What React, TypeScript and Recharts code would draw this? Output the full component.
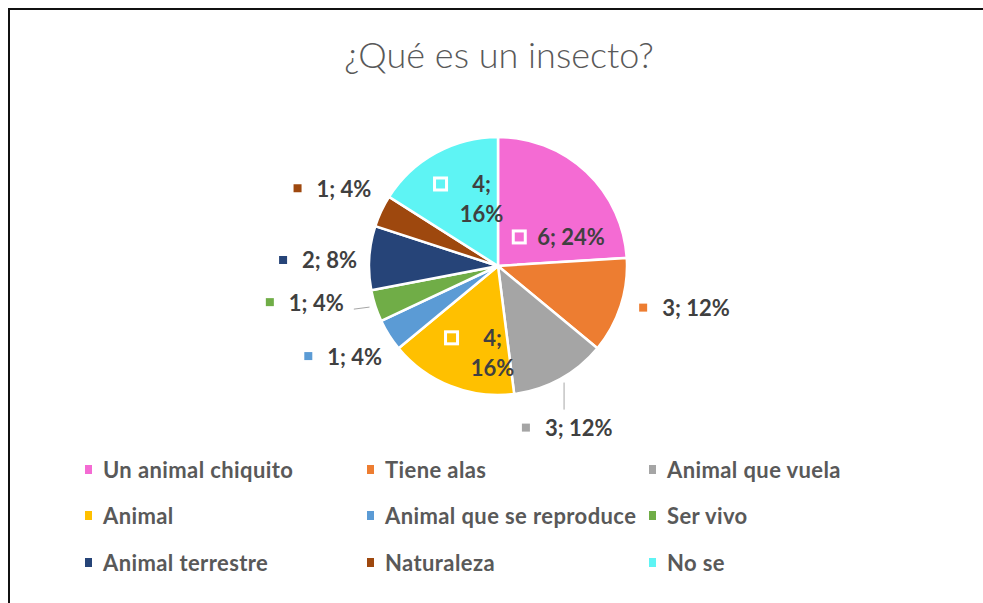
import { PieChart, Pie, Cell, Legend } from 'recharts';

const categories = [
  'Un animal chiquito',
  'Tiene alas',
  'Animal que vuela',
  'Animal',
  'Animal que se reproduce',
  'Ser vivo',
  'Animal terrestre',
  'Naturaleza',
  'No se',
];
const counts = [6, 3, 3, 4, 1, 1, 2, 1, 4];
const colors = [
  '#F46BD3', '#ED7D31', '#A5A5A5', '#FFC000', '#5B9BD5',
  '#70AD47', '#264478', '#9E480E', '#5EF4F4',
];

const data = categories.map((name, i) => ({ name, value: counts[i] }));

const RAD = Math.PI / 180;
const FONT = 'Lato, "Open Sans", sans-serif';
const TEXT = '#404040';

// where Excel dropped each label, relative to the slice's mid angle
const labelSpots = [
  { r: 36, da: 7, kind: 'inside' },
  { r: 151, da: 2, kind: 'outside' },
  { r: 164, da: -19, kind: 'outside', leader: 'down' },
  { r: 87, da: 18, kind: 'wrap' },
  { r: 210, da: -7, kind: 'outside' },
  { r: 231, da: -9, kind: 'outside', leader: 'side' },
  { r: 215, da: 2, kind: 'outside' },
  { r: 215, da: 4, kind: 'outside' },
  { r: 69, da: -15, kind: 'wrap' },
];

function renderLabel(props: any) {
  const { cx, cy, midAngle, outerRadius, index, value, percent } = props;
  const spot = labelSpots[index];
  const a = (midAngle + spot.da) * RAD;
  const x = cx + spot.r * Math.cos(-a);
  const y = cy + spot.r * Math.sin(-a);
  const pct = Math.round(percent * 100);
  const color = colors[index];
  const textStyle = { fontFamily: FONT, fontWeight: 700, fontSize: 22, fill: TEXT };

  if (spot.kind === 'wrap') {
    return (
      <g key={`l${index}`}>
        <rect x={x - 47} y={y - 21} width={12} height={12} fill={color} stroke="#fff" strokeWidth={3} />
        <text x={x} y={y - 15} textAnchor="middle" dominantBaseline="central" style={textStyle}>{`${value};`}</text>
        <text x={x} y={y + 15} textAnchor="middle" dominantBaseline="central" style={textStyle}>{`${pct}%`}</text>
      </g>
    );
  }

  const label = `${value}; ${pct}%`;
  let leader = null;
  if (spot.leader) {
    const m = midAngle * RAD;
    const ex = cx + (outerRadius + 4) * Math.cos(-m);
    const ey = cy + (outerRadius + 4) * Math.sin(-m);
    if (spot.leader === 'down') {
      leader = <line x1={ex + 2} y1={ey} x2={ex + 2} y2={y - 18} stroke="#A6A6A6" strokeWidth={1} />;
    } else {
      leader = <line x1={ex - 2} y1={ey} x2={x + 84} y2={y + 7} stroke="#A6A6A6" strokeWidth={1} />;
    }
  }

  return (
    <g key={`l${index}`}>
      {leader}
      {spot.kind === 'inside' ? (
        <rect x={x - 6} y={y - 6} width={12} height={12} fill={color} stroke="#fff" strokeWidth={3} />
      ) : (
        <rect x={x - 4} y={y - 4} width={8} height={8} fill={color} />
      )}
      <text x={x + (spot.kind === 'inside' ? 18 : 19)} y={y} dominantBaseline="central" style={textStyle}>{label}</text>
    </g>
  );
}

// legend keeps the slice order, not Recharts' alphabetical sort
function LegendGrid() {
  return (
    <div style={{ display: 'grid', gridTemplateColumns: 'repeat(3, 282px)', gridAutoRows: '46.5px', fontFamily: FONT }}>
      {categories.map((c, i) => (
        <div key={c} style={{ display: 'flex', alignItems: 'center', whiteSpace: 'nowrap' }}>
          <span style={{ width: 7, height: 9, background: colors[i], marginRight: 11, display: 'inline-block' }} />
          <span style={{ fontSize: 22, fontWeight: 700, letterSpacing: 0.4, color: '#595959' }}>{c}</span>
        </div>
      ))}
    </div>
  );
}

export default function App() {
  return (
    <div
      style={{
        position: 'fixed', left: 8, top: 8, width: 975, height: 593,
        borderTop: '2px solid #111', borderLeft: '2px solid #111', borderBottom: '1px solid #d9d9d9',
        background: '#fff',
      }}
    >
      <div
        style={{
          position: 'absolute', left: 0, top: 26, width: 978, textAlign: 'center',
          fontFamily: FONT, fontWeight: 300, fontSize: 36, color: '#595959', lineHeight: '36px',
        }}
      >
        ¿Qué es un insecto?
      </div>
      <PieChart width={973} height={590}>
        <Pie
          data={data}
          dataKey="value"
          nameKey="name"
          cx={483}
          cy={251}
          outerRadius={129}
          startAngle={90}
          endAngle={-270}
          stroke="#fff"
          strokeWidth={2.5}
          label={renderLabel}
          labelLine={false}
          isAnimationActive={false}
        >
          {data.map((d, i) => (
            <Cell key={d.name} fill={colors[i]} />
          ))}
        </Pie>
        <Legend content={<LegendGrid />} wrapperStyle={{ top: 436, left: 75, width: 860 }} />
      </PieChart>
    </div>
  );
}
